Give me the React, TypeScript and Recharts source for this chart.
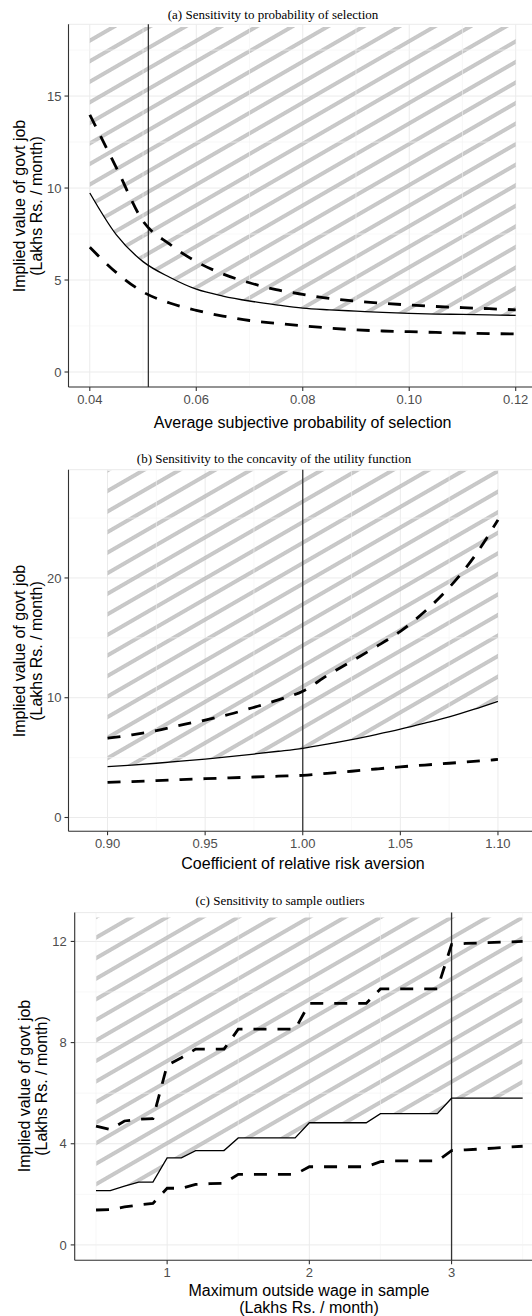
import React from 'react';
import { ComposedChart, Area, Line, XAxis, YAxis, CartesianGrid, ReferenceLine } from 'recharts';

// ---------- Panel (a): probability of selection ----------
const probX = [0.04, 0.045, 0.05, 0.055, 0.06, 0.065, 0.07, 0.075, 0.08, 0.085, 0.09, 0.095, 0.1, 0.105, 0.11, 0.115, 0.12];
const probMid = [9.73, 7.45, 6.0, 5.15, 4.5, 4.13, 3.86, 3.65, 3.47, 3.38, 3.31, 3.24, 3.19, 3.15, 3.13, 3.1, 3.08];
const probHigh = [13.98, 11.1, 8.2, 6.95, 6.0, 5.33, 4.85, 4.48, 4.22, 4.0, 3.85, 3.74, 3.64, 3.56, 3.5, 3.44, 3.38];
const probLow = [6.78, 5.4, 4.35, 3.75, 3.35, 3.04, 2.8, 2.65, 2.51, 2.39, 2.29, 2.23, 2.19, 2.15, 2.12, 2.09, 2.07];
const probXTicks = [0.04, 0.06, 0.08, 0.1, 0.12];
const probYTicks = [0, 5, 10, 15];
const probXMinor = [0.05, 0.07, 0.09, 0.11];
const probYMinor = [2.5, 7.5, 12.5, 17.5];
const probRef = 0.051;
const probHatchTop = 18.75;

// ---------- Panel (b): coefficient of relative risk aversion ----------
const craX = [0.9, 0.9125, 0.925, 0.9375, 0.95, 0.9625, 0.975, 0.9875, 1.0, 1.0125, 1.025, 1.0375, 1.05, 1.0625, 1.075, 1.0875, 1.1];
const craMid = [4.25, 4.38, 4.53, 4.7, 4.88, 5.08, 5.3, 5.53, 5.78, 6.12, 6.5, 6.92, 7.37, 7.87, 8.4, 9.02, 9.7];
const craHigh = [6.62, 6.9, 7.25, 7.72, 8.13, 8.62, 9.2, 9.82, 10.55, 11.85, 13.05, 14.25, 15.55, 17.2, 19.2, 21.7, 24.85];
const craLow = [2.93, 3.0, 3.08, 3.16, 3.24, 3.31, 3.38, 3.45, 3.52, 3.69, 3.86, 4.05, 4.23, 4.38, 4.53, 4.68, 4.85];
const craXTicks = [0.9, 0.95, 1.0, 1.05, 1.1];
const craYTicks = [0, 10, 20];
const craXMinor = [0.925, 0.975, 1.025, 1.075];
const craYMinor = [5, 15, 25];
const craRef = 1.0;
const craHatchTop = 28.95;

// ---------- Panel (c): sample outliers ----------
const wageX = [0.5, 0.6, 0.7, 0.8, 0.9, 1.0, 1.1, 1.2, 1.3, 1.4, 1.5, 1.6, 1.7, 1.8, 1.9, 2.0, 2.1, 2.2, 2.3, 2.4, 2.5, 2.6, 2.7, 2.8, 2.9, 3.0, 3.1, 3.2, 3.3, 3.4, 3.5];
const wageMid = [2.15, 2.15, 2.32, 2.48, 2.48, 3.44, 3.44, 3.73, 3.73, 3.73, 4.23, 4.23, 4.23, 4.23, 4.23, 4.83, 4.83, 4.83, 4.83, 4.83, 5.19, 5.19, 5.19, 5.19, 5.19, 5.8, 5.8, 5.8, 5.8, 5.8, 5.8];
const wageHigh = [4.7, 4.56, 4.9, 4.97, 4.99, 7.1, 7.4, 7.74, 7.74, 7.74, 8.53, 8.53, 8.53, 8.53, 8.53, 9.55, 9.55, 9.55, 9.55, 9.55, 10.12, 10.12, 10.12, 10.12, 10.12, 11.88, 11.92, 11.94, 11.96, 11.98, 12.0];
const wageLow = [1.38, 1.4, 1.5, 1.58, 1.64, 2.24, 2.24, 2.39, 2.42, 2.44, 2.79, 2.79, 2.79, 2.79, 2.79, 3.09, 3.09, 3.09, 3.09, 3.09, 3.29, 3.32, 3.32, 3.32, 3.32, 3.73, 3.76, 3.79, 3.83, 3.87, 3.9];
const wageXTicks = [1, 2, 3];
const wageYTicks = [0, 4, 8, 12];
const wageXMinor = [0.5, 1.5, 2.5, 3.5];
const wageYMinor = [2, 6, 10];
const wageRef = 3.0;
const wageHatchTop = 12.95;

const build = (xs: number[], mid: number[], high: number[], low: number[], top: number) =>
  xs.map((x, i) => ({ x, mid: mid[i], high: high[i], low: low[i], band: [mid[i], top] }));

const dataA = build(probX, probMid, probHigh, probLow, probHatchTop);
const dataB = build(craX, craMid, craHigh, craLow, craHatchTop);
const dataC = build(wageX, wageMid, wageHigh, wageLow, wageHatchTop);

const SANS = '"Liberation Sans", Arial, Helvetica, sans-serif';
const SERIF = '"Liberation Serif", "Times New Roman", serif';
const AXIS = '#333333';
const tickStyle = { fill: '#4d4d4d', fontSize: 13, fontFamily: SANS };

type PanelProps = {
  id: string;
  data: any[];
  curve: 'linear' | 'monotone';
  xDomain: [number, number];
  yDomain: [number, number];
  xTicks: number[];
  yTicks: number[];
  xMinor: number[];
  yMinor: number[];
  vline: number;
  fmt: (v: number) => string;
  top: number;
  width: number;
  height: number;
  marginTop: number;
  marginLeft: number;
  marginRight: number;
  yAxisWidth: number;
  xAxisHeight: number;
  yTickMargin: number;
};

function Panel(p: PanelProps) {
  const line = { stroke: AXIS, strokeWidth: 1.1 };
  return (
    <div style={{ position: 'absolute', left: 0, top: p.top }}>
      <ComposedChart
        width={p.width}
        height={p.height}
        data={p.data}
        margin={{ top: p.marginTop, right: p.marginRight, bottom: 0, left: p.marginLeft }}
      >
        <defs>
          <pattern id={p.id} patternUnits="userSpaceOnUse" width={12} height={17.8} patternTransform="rotate(-30)">
            <rect x={0} y={7.3} width={12} height={3.2} fill="#a3a3a3" />
            <rect x={0} y={8.3} width={12} height={1.2} fill="#e2e2e2" />
          </pattern>
        </defs>
        <CartesianGrid stroke="#ebebeb" strokeWidth={1} />
        {p.xMinor.map((v) => (
          <ReferenceLine key={'mx' + v} x={v} stroke="#f3f3f3" strokeWidth={0.6} />
        ))}
        {p.yMinor.map((v) => (
          <ReferenceLine key={'my' + v} y={v} stroke="#f3f3f3" strokeWidth={0.6} />
        ))}
        <XAxis
          dataKey="x"
          type="number"
          domain={p.xDomain}
          allowDataOverflow
          ticks={p.xTicks}
          interval={0}
          tickFormatter={p.fmt}
          height={p.xAxisHeight}
          tickSize={4}
          tickMargin={4}
          tick={tickStyle}
          axisLine={line}
          tickLine={line}
        />
        <XAxis
          xAxisId="top"
          orientation="top"
          type="number"
          domain={p.xDomain}
          allowDataOverflow
          height={0}
          tick={false}
          tickLine={false}
          axisLine={line}
        />
        <YAxis
          type="number"
          domain={p.yDomain}
          allowDataOverflow
          ticks={p.yTicks}
          interval={0}
          width={p.yAxisWidth}
          tickSize={4}
          tickMargin={p.yTickMargin}
          tick={tickStyle}
          axisLine={line}
          tickLine={line}
        />
        <YAxis
          yAxisId="right"
          orientation="right"
          type="number"
          domain={p.yDomain}
          allowDataOverflow
          width={0}
          tick={false}
          tickLine={false}
          axisLine={line}
        />
        <Area
          dataKey="band"
          type={p.curve}
          stroke="none"
          fill={`url(#${p.id})`}
          fillOpacity={1}
          dot={false}
          activeDot={false}
          isAnimationActive={false}
        />
        <ReferenceLine x={p.vline} stroke="#333333" strokeWidth={1.3} />
        <Line dataKey="low" type={p.curve} stroke="#000" strokeWidth={2.8} strokeDasharray="13 11" dot={false} activeDot={false} isAnimationActive={false} />
        <Line dataKey="high" type={p.curve} stroke="#000" strokeWidth={2.8} strokeDasharray="13 11" dot={false} activeDot={false} isAnimationActive={false} />
        <Line dataKey="mid" type={p.curve} stroke="#000" strokeWidth={1.3} dot={false} activeDot={false} isAnimationActive={false} />
      </ComposedChart>
    </div>
  );
}

function Title({ cx, cy, text }: { cx: number; cy: number; text: string }) {
  return (
    <div
      style={{
        position: 'absolute',
        left: cx,
        top: cy,
        transform: 'translate(-50%, -50%)',
        whiteSpace: 'nowrap',
        fontFamily: SERIF,
        fontSize: 13,
        color: '#000',
      }}
    >
      {text}
    </div>
  );
}

function XTitle({ cx, cy, lines }: { cx: number; cy: number; lines: string[] }) {
  return (
    <div
      style={{
        position: 'absolute',
        left: cx,
        top: cy,
        transform: 'translate(-50%, -50%)',
        whiteSpace: 'nowrap',
        textAlign: 'center',
        fontFamily: SANS,
        fontSize: 16,
        lineHeight: '17px',
        color: '#000',
      }}
    >
      {lines.map((l, i) => (
        <div key={i}>{l}</div>
      ))}
    </div>
  );
}

function YTitle({ cx, cy }: { cx: number; cy: number }) {
  return (
    <div
      style={{
        position: 'absolute',
        left: cx,
        top: cy,
        transform: 'translate(-50%, -50%) rotate(-90deg)',
        whiteSpace: 'nowrap',
        textAlign: 'center',
        fontFamily: SANS,
        fontSize: 16,
        lineHeight: '16.5px',
        color: '#000',
      }}
    >
      <div>Implied value of govt job</div>
      <div>(Lakhs Rs. / month)</div>
    </div>
  );
}

export default function App() {
  return (
    <div
      style={{
        position: 'absolute',
        left: 0,
        top: 0,
        width: 532,
        height: 1316,
        overflow: 'hidden',
        background: '#fff',
      }}
    >
      <Panel
        id="hatch-a"
        data={dataA}
        curve="monotone"
        xDomain={[0.036, 0.124]}
        yDomain={[-0.815, 18.9]}
        xTicks={probXTicks}
        yTicks={probYTicks}
        xMinor={probXMinor}
        yMinor={probYMinor}
        vline={probRef}
        fmt={(v) => v.toFixed(2)}
        top={0}
        width={540}
        height={440}
        marginTop={24.3}
        marginLeft={0.5}
        marginRight={3}
        yAxisWidth={68}
        xAxisHeight={53}
        yTickMargin={3}
      />
      <Panel
        id="hatch-b"
        data={dataB}
        curve="monotone"
        xDomain={[0.88, 1.12]}
        yDomain={[-1.144, 29.04]}
        xTicks={craXTicks}
        yTicks={craYTicks}
        xMinor={craXMinor}
        yMinor={craYMinor}
        vline={craRef}
        fmt={(v) => v.toFixed(2)}
        top={440}
        width={540}
        height={440}
        marginTop={29.7}
        marginLeft={0.5}
        marginRight={3}
        yAxisWidth={68}
        xAxisHeight={48.8}
        yTickMargin={3}
      />
      <Panel
        id="hatch-c"
        data={dataC}
        curve="linear"
        xDomain={[0.35, 3.65]}
        yDomain={[-0.605, 13.14]}
        xTicks={wageXTicks}
        yTicks={wageYTicks}
        xMinor={wageXMinor}
        yMinor={wageYMinor}
        vline={wageRef}
        fmt={(v) => String(v)}
        top={880}
        width={547}
        height={436}
        marginTop={32.6}
        marginLeft={0.7}
        marginRight={3}
        yAxisWidth={74}
        xAxisHeight={55.8}
        yTickMargin={4}
      />

      <Title cx={273} cy={15} text="(a) Sensitivity to probability of selection" />
      <Title cx={274} cy={458.8} text="(b) Sensitivity to the concavity of the utility function" />
      <Title cx={280} cy={901.4} text="(c) Sensitivity to sample outliers" />

      <XTitle cx={302.7} cy={422} lines={['Average subjective probability of selection']} />
      <XTitle cx={303} cy={863.4} lines={['Coefficient of relative risk aversion']} />
      <XTitle cx={309} cy={1298.5} lines={['Maximum outside wage in sample', '(Lakhs Rs. / month)']} />

      <YTitle cx={27.7} cy={205.5} />
      <YTitle cx={27.7} cy={650.5} />
      <YTitle cx={33} cy={1086.4} />
    </div>
  );
}
